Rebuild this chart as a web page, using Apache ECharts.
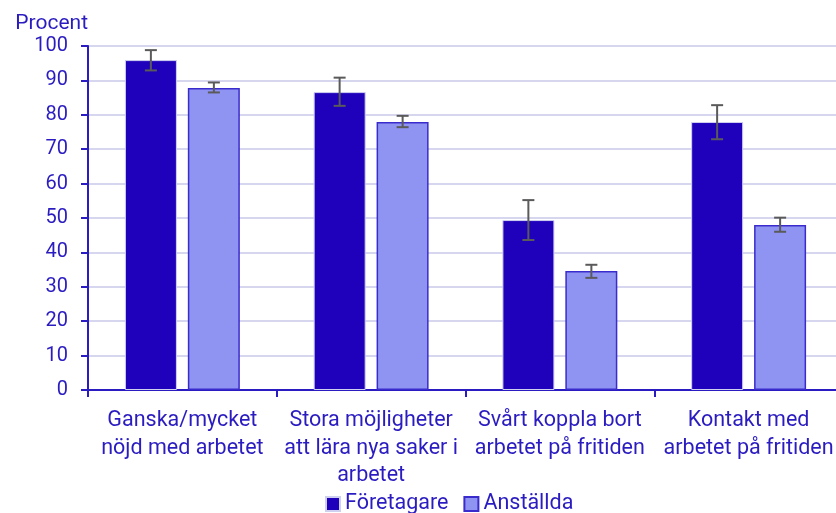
<!DOCTYPE html>
<html>
<head>
<meta charset="utf-8">
<script src="https://cdn.jsdelivr.net/npm/echarts@6/dist/echarts.min.js"></script>
<style>html,body{margin:0;padding:0;background:#fff}#c{width:836px;height:513px}</style>
</head>
<body>
<div id="c"></div>
<script>
const categories = ['Ganska/mycket\nnöjd med arbetet', 'Stora möjligheter\natt lära nya saker i\narbetet', 'Svårt koppla bort\narbetet på fritiden', 'Kontakt med\narbetet på fritiden'];
const seriesNames = ['Företagare', 'Anställda'];
const foretagare = [95.9, 86.6, 49.4, 77.9];
const foretagareLow = [92.9, 82.6, 43.6, 72.9];
const foretagareHigh = [98.8, 90.8, 55.2, 82.8];
const anstallda = [87.8, 77.9, 34.6, 48.0];
const anstalldaLow = [86.5, 76.4, 32.6, 46.0];
const anstalldaHigh = [89.4, 79.7, 36.4, 50.1];

const txt = '#2a1cc0';
const BW = 52, GAP = 11;

function errSeries(low, high, sign) {
  return {
    type: 'custom',
    z: 10,
    silent: true,
    data: low.map((l, i) => [i, l, high[i]]),
    renderItem: function (params, api) {
      const i = api.value(0);
      const p1 = api.coord([i, api.value(1)]);
      const p2 = api.coord([i, api.value(2)]);
      const x = p1[0] + sign * (BW + GAP) / 2;
      const w = 6;
      const st = { stroke: '#5a5a5a', lineWidth: 2 };
      return {
        type: 'group',
        children: [
          { type: 'line', shape: { x1: x, y1: p1[1], x2: x, y2: p2[1] }, style: st },
          { type: 'line', shape: { x1: x - w, y1: p1[1], x2: x + w, y2: p1[1] }, style: st },
          { type: 'line', shape: { x1: x - w, y1: p2[1], x2: x + w, y2: p2[1] }, style: st }
        ]
      };
    }
  };
}

const chart = echarts.init(document.getElementById('c'));
chart.setOption({
  animation: false,
  textStyle: { fontFamily: 'Roboto' },
  grid: { left: 88, width: 755, top: 46, bottom: 123, containLabel: false, outerBoundsMode: 'none' },
  legend: {
    bottom: -2, left: 325, padding: 0,
    itemWidth: 14, itemHeight: 14, itemGap: 15,
    icon: 'rect',
    textStyle: { color: txt, fontSize: 21.5, fontFamily: 'Roboto', padding: [0, 0, 0, 0] },
    data: seriesNames
  },
  xAxis: {
    type: 'category',
    data: categories,
    axisLine: { lineStyle: { color: txt, width: 2 } },
    axisTick: { show: true, length: 7, lineStyle: { color: txt, width: 2 } },
    axisLabel: { color: txt, fontSize: 21.5, lineHeight: 27.5, margin: 17, interval: 0 }
  },
  yAxis: {
    type: 'value', min: 0, max: 100, interval: 10,
    name: 'Procent',
    nameLocation: 'end',
    nameGap: 12,
    nameTextStyle: { color: txt, fontSize: 21, align: 'right', padding: [0, 0, 0, 0] },
    axisLine: { show: true, lineStyle: { color: txt, width: 2 } },
    axisTick: { show: true, length: 7, lineStyle: { color: txt, width: 2 } },
    axisLabel: { color: txt, fontSize: 20, margin: 20 },
    splitLine: { lineStyle: { color: '#d6d6ee', width: 2 } }
  },
  series: [
    {
      name: seriesNames[0], type: 'bar', data: foretagare,
      barWidth: BW, barGap: '21%',
      itemStyle: { color: '#1f00bb', borderColor: '#cfcff0', borderWidth: 1 }
    },
    {
      name: seriesNames[1], type: 'bar', data: anstallda,
      barWidth: BW,
      itemStyle: { color: '#8f94f2', borderColor: '#3a2ccc', borderWidth: 1.5 }
    },
    errSeries(foretagareLow, foretagareHigh, -1),
    errSeries(anstalldaLow, anstalldaHigh, 1)
  ]
});
</script>
</body>
</html>
